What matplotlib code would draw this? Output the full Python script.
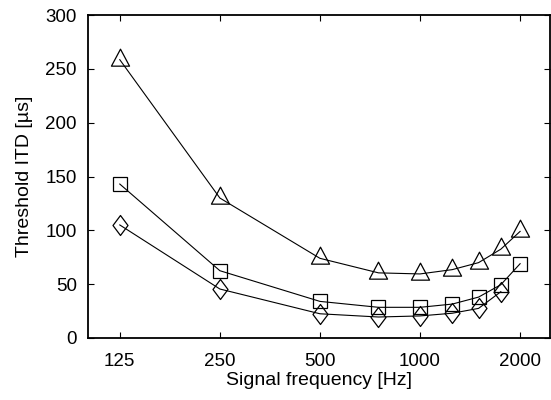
import matplotlib
matplotlib.use("Agg")
import matplotlib.pyplot as plt
from matplotlib.path import Path
from matplotlib.ticker import FixedLocator, NullLocator, NullFormatter

plt.rcParams['font.family'] = ['Liberation Sans', 'DejaVu Sans']

freqs = [125, 250, 500, 750, 1000, 1250, 1500, 1750, 2000]
tri_vals = [258.5, 130, 74, 60.5, 59.5, 63.5, 70, 82.5, 99]
sq_vals = [143, 62.5, 34, 28.5, 28.5, 31.5, 38, 49.5, 69]
dia_freqs = [125, 250, 500, 750, 1000, 1250, 1500, 1750]
dia_vals = [105, 45.5, 22.5, 19.5, 20.5, 23, 27.5, 43]

xticks = [125, 250, 500, 1000, 2000]
xticklabels = ['125', '250', '500', '1000', '2000']
yticks = [0, 50, 100, 150, 200, 250, 300]

fig = plt.figure(figsize=(5.51, 4.00), dpi=100)
ax = fig.add_axes([88/551, 1-338/400, (550-88)/551, (338-15)/400])

tri = Path([(-0.8, -0.5), (0.8, -0.5), (0, 1), (-0.8, -0.5)], closed=True)
dia = Path([(0, 1), (0.75, 0), (0, -1), (-0.75, 0), (0, 1)], closed=True)
kw = dict(color='black', lw=0.8, mfc='none', mec='black', mew=0.9)
ax.plot(freqs, tri_vals, marker=tri, ms=16.3, **kw)
ax.plot(freqs, sq_vals, marker='s', ms=10, **kw)
ax.plot(dia_freqs, dia_vals, marker=dia, ms=14.4, **kw)

ax.set_xscale('log')
ax.set_xlim(100.3, 2460)
ax.set_ylim(0, 300)
ax.xaxis.set_major_locator(FixedLocator(xticks))
ax.set_xticklabels(xticklabels)
ax.xaxis.set_minor_locator(NullLocator())
ax.xaxis.set_minor_formatter(NullFormatter())
ax.set_yticks(yticks)

ax.tick_params(axis='both', which='both', direction='in', top=True, right=True,
               length=4, width=0.8, labelsize=13.5)
ax.tick_params(axis='x', pad=11)
ax.tick_params(axis='y', pad=8)
for s in ax.spines.values():
    s.set_linewidth(1.3)

ax.set_xlabel('Signal frequency [Hz]', fontsize=14, labelpad=1)
ax.set_ylabel('Threshold ITD [µs]', fontsize=14, labelpad=9)

fig.savefig('out.png', dpi=100)
